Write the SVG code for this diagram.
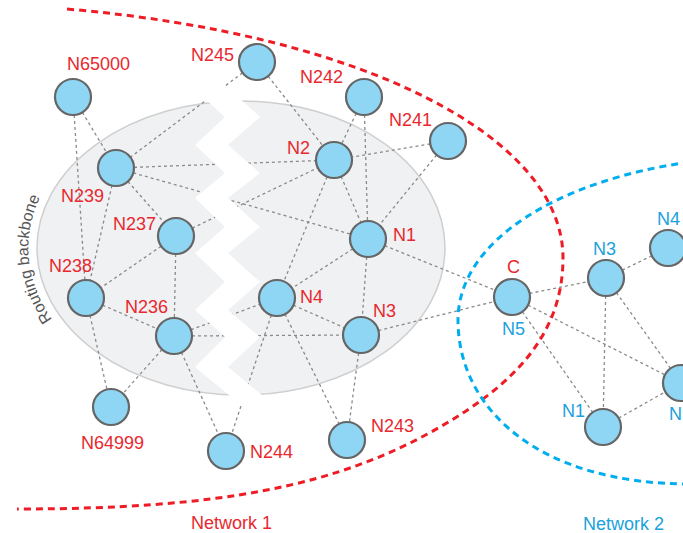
<svg xmlns="http://www.w3.org/2000/svg" width="683" height="533" viewBox="0 0 683 533">
<defs>
<style>
.lk{stroke:#8a8a8a;stroke-width:1.3;stroke-dasharray:3 3;fill:none}
.nd{fill:#8fd5f4;stroke:#666;stroke-width:2.2}
.tr{font-family:"Liberation Sans",Arial,sans-serif;font-size:18px;fill:#e8282e}
.tb{font-family:"Liberation Sans",Arial,sans-serif;font-size:18px;fill:#1ba1dc}
.red{fill:none;stroke:#ee1c25;stroke-width:3;stroke-dasharray:7 5}
.blue{fill:none;stroke:#00aeef;stroke-width:3;stroke-dasharray:7 5}
</style>
<path id="rbPath" d="M67,337 A213,155 0 0 1 67,159"/>
</defs>
<rect width="683" height="533" fill="#fff"/>
<ellipse cx="241" cy="248" rx="204" ry="147" fill="#f0f1f3" stroke="#cfcfcf" stroke-width="1.5"/>
<text font-family="'Liberation Sans',Arial,sans-serif" font-size="16" fill="#555"><textPath href="#rbPath" startOffset="44%" text-anchor="middle">Routing backbone</textPath></text>
<g id="connectors">
<line class="lk" x1="73" y1="97" x2="116" y2="168"/>
<line class="lk" x1="73" y1="97" x2="86" y2="298"/>
<line class="lk" x1="257" y1="62" x2="116" y2="168"/>
<line class="lk" x1="257" y1="62" x2="334" y2="160"/>
<line class="lk" x1="116" y1="168" x2="334" y2="160"/>
<line class="lk" x1="116" y1="168" x2="368" y2="239"/>
<line class="lk" x1="116" y1="168" x2="176" y2="236"/>
<line class="lk" x1="116" y1="168" x2="86" y2="298"/>
<line class="lk" x1="176" y1="236" x2="334" y2="160"/>
<line class="lk" x1="176" y1="236" x2="86" y2="298"/>
<line class="lk" x1="176" y1="236" x2="174" y2="336"/>
<line class="lk" x1="86" y1="298" x2="174" y2="336"/>
<line class="lk" x1="86" y1="298" x2="111" y2="407"/>
<line class="lk" x1="174" y1="336" x2="111" y2="407"/>
<line class="lk" x1="174" y1="336" x2="226" y2="451"/>
<line class="lk" x1="174" y1="336" x2="277" y2="298"/>
<line class="lk" x1="174" y1="336" x2="361" y2="335"/>
<line class="lk" x1="364" y1="97" x2="334" y2="160"/>
<line class="lk" x1="364" y1="97" x2="368" y2="239"/>
<line class="lk" x1="448" y1="141" x2="334" y2="160"/>
<line class="lk" x1="448" y1="141" x2="368" y2="239"/>
<line class="lk" x1="334" y1="160" x2="368" y2="239"/>
<line class="lk" x1="334" y1="160" x2="277" y2="298"/>
<line class="lk" x1="368" y1="239" x2="277" y2="298"/>
<line class="lk" x1="368" y1="239" x2="361" y2="335"/>
<line class="lk" x1="368" y1="239" x2="512" y2="297"/>
<line class="lk" x1="277" y1="298" x2="361" y2="335"/>
<line class="lk" x1="277" y1="298" x2="226" y2="451"/>
<line class="lk" x1="277" y1="298" x2="347" y2="440"/>
<line class="lk" x1="361" y1="335" x2="347" y2="440"/>
<line class="lk" x1="361" y1="335" x2="512" y2="297"/>
<line class="lk" x1="512" y1="297" x2="606" y2="278"/>
<line class="lk" x1="512" y1="297" x2="603" y2="427"/>
<line class="lk" x1="512" y1="297" x2="681" y2="383"/>
<line class="lk" x1="606" y1="278" x2="668" y2="248"/>
<line class="lk" x1="606" y1="278" x2="603" y2="427"/>
<line class="lk" x1="606" y1="278" x2="681" y2="383"/>
<line class="lk" x1="603" y1="427" x2="681" y2="383"/>
</g>
<polygon fill="#fff" points="190,85 225,117 195,145 225,173 195,198 225,227 195,253 225,282 195,310 225,337 195,367 247,410 280,410 228,367 260,337 228,310 260,282 228,253 260,227 228,198 260,173 228,145 260,117 225,85"/>
<path class="red" d="M67,9 C367,35 563,138 563,258 C563,338 509,387 440,427 C336,487 217,509 17,509"/>
<path class="blue" d="M690,162 C560,180 458,240 458,320 C458,410 540,484 690,484"/>
<g id="N65000"><circle class="nd" cx="73" cy="97" r="18"/><text class="tr" x="67" y="70">N65000</text></g>
<g id="N245"><circle class="nd" cx="257" cy="62" r="18"/><text class="tr" x="191" y="61">N245</text></g>
<g id="N242"><circle class="nd" cx="364" cy="97" r="18"/><text class="tr" x="300" y="83">N242</text></g>
<g id="N241"><circle class="nd" cx="448" cy="141" r="18"/><text class="tr" x="389" y="126">N241</text></g>
<g id="N2"><circle class="nd" cx="334" cy="160" r="18"/><text class="tr" x="287" y="154">N2</text></g>
<g id="N239"><circle class="nd" cx="116" cy="168" r="18"/><text class="tr" x="61" y="202">N239</text></g>
<g id="N237"><circle class="nd" cx="176" cy="236" r="18"/><text class="tr" x="113" y="230">N237</text></g>
<g id="N1"><circle class="nd" cx="368" cy="239" r="18"/><text class="tr" x="393" y="241">N1</text></g>
<g id="N238"><circle class="nd" cx="86" cy="298" r="18"/><text class="tr" x="49" y="272">N238</text></g>
<g id="N236"><circle class="nd" cx="174" cy="336" r="18"/><text class="tr" x="125" y="313">N236</text></g>
<g id="N4"><circle class="nd" cx="277" cy="298" r="18"/><text class="tr" x="300" y="303">N4</text></g>
<g id="N3"><circle class="nd" cx="361" cy="335" r="18"/><text class="tr" x="373" y="317">N3</text></g>
<g id="N64999"><circle class="nd" cx="111" cy="407" r="18"/><text class="tr" x="81" y="449">N64999</text></g>
<g id="N244"><circle class="nd" cx="226" cy="451" r="18"/><text class="tr" x="250" y="458">N244</text></g>
<g id="N243"><circle class="nd" cx="347" cy="440" r="18"/><text class="tr" x="371" y="432">N243</text></g>
<g id="C-N5"><circle class="nd" cx="512" cy="297" r="18"/><text class="tr" x="507" y="273">C</text><text class="tb" x="502" y="335">N5</text></g>
<g id="Net2-N3"><circle class="nd" cx="606" cy="278" r="18"/><text class="tb" x="593" y="255">N3</text></g>
<g id="Net2-N4"><circle class="nd" cx="668" cy="248" r="18"/><text class="tb" x="657" y="225">N4</text></g>
<g id="Net2-N1"><circle class="nd" cx="603" cy="427" r="18"/><text class="tb" x="562" y="417">N1</text></g>
<g id="Net2-N2"><circle class="nd" cx="681" cy="383" r="18"/><text class="tb" x="669" y="420">N</text></g>
<text class="tr" x="191" y="529">Network 1</text>
<text class="tb" x="583" y="530">Network 2</text>
</svg>
